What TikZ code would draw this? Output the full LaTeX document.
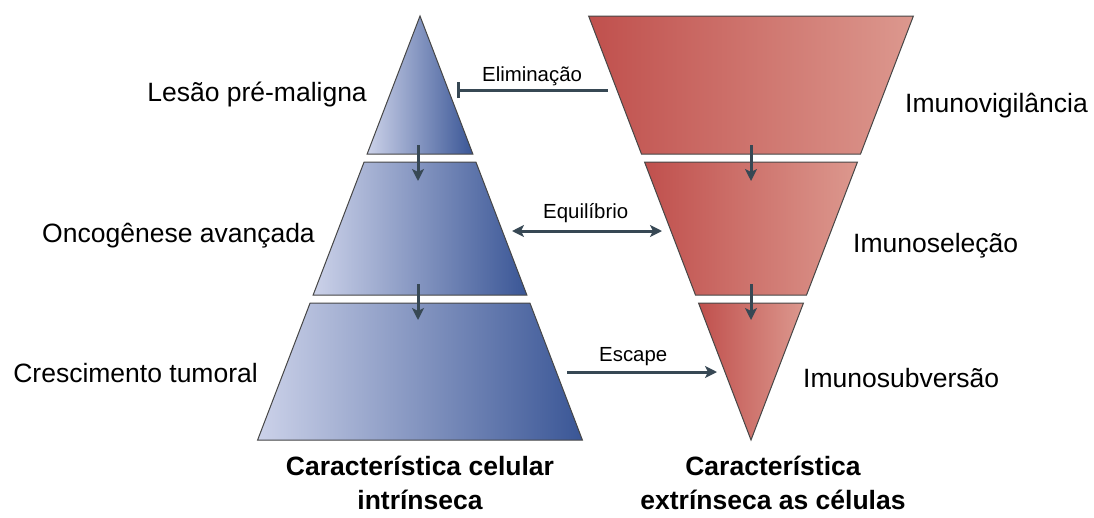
\documentclass[tikz,border=0pt]{standalone}
\usepackage{fontspec}
\setmainfont{Liberation Sans}
\usepackage{tikz}
\usetikzlibrary{
  arrows.meta,
  calc,
  positioning}

\definecolor{blueL}{RGB}{204,210,233}
\definecolor{blueR}{RGB}{58,86,150}
\definecolor{redL}{RGB}{192,80,77}
\definecolor{redR}{RGB}{220,152,142}
\definecolor{edgegray}{RGB}{70,70,70}
\definecolor{arrowgray}{RGB}{55,72,84}

\tikzset{
  bluebnd/.style={left color=blueL, right color=blueR, draw=edgegray, line width=1pt},
  redbnd/.style={left color=redL, right color=redR, draw=edgegray, line width=1pt},
  conn/.style={draw=arrowgray, line width=3pt},
  tip/.style={-{Stealth[length=12pt,width=12pt,inset=3pt]}},
  lbl/.style={font=\fontsize{26.5}{30}\selectfont, inner sep=0pt},
  smalllbl/.style={font=\fontsize{20.4}{24}\selectfont, inner sep=0pt},
  ttl/.style={font=\fontsize{26.5}{34}\selectfont\bfseries, align=center, inner sep=0pt}
}

\begin{document}
\begin{tikzpicture}[x=1pt,y=-1pt]
        \useasboundingbox (0,0) rectangle (1094,517);

        % celula: piramide
        \foreach \ya/\yb in {16/154,162/295,303/440} {
            \shadedraw[bluebnd] ({420-0.383*(\ya-16)},\ya) -- ({420+0.383*(\ya-16)},\ya)
                -- ({420+0.383*(\yb-16)},\yb) -- ({420-0.383*(\yb-16)},\yb) -- cycle;
        }
        % sistema imune: piramide invertida
        \foreach \ya/\yb in {16/154,162/295,303/440} {
            \shadedraw[redbnd] ({751-0.383*(440-\ya)},\ya) -- ({751+0.383*(440-\ya)},\ya)
                -- ({751+0.383*(440-\yb)},\yb) -- ({751-0.383*(440-\yb)},\yb) -- cycle;
        }

        \foreach \x/\n in {418/l,751/r} {
            \coordinate (\n1s) at (\x,145);
            \coordinate (\n1e) at (\x,181);
            \coordinate (\n2s) at (\x,284);
            \coordinate (\n2e) at (\x,320);
            \draw[conn,tip] (\n1s) -- (\n1e);
            \draw[conn,tip] (\n2s) -- (\n2e);
        }

        \coordinate (elimA) at (608,90);
        \coordinate (elimB) at (457,90);
        \coordinate (equiA) at (512,231);
        \coordinate (equiB) at (662,231);
        \coordinate (escA) at (567,372);
        \coordinate (escB) at (717,372);

        \draw[conn,{Bar[width=16pt]}-] (elimB) -- (elimA);
        \draw[conn,{Stealth[length=12pt,width=12pt,inset=3pt]}-{Stealth[length=12pt,width=12pt,inset=3pt]}] (equiA) -- (equiB);
        \draw[conn,tip] (escA) -- (escB);

        \node (elim) [smalllbl, anchor=base west] at (482,81) {Eliminação};
        \node (equi) [smalllbl, anchor=base west] at (543,218) {Equilíbrio};
        \node (esc) [smalllbl, anchor=base west] at (599,361) {Escape};

        \node (lesao) [lbl, anchor=base east] at (367,101) {Lesão pré-maligna};
        \node (onco) [lbl, anchor=base east] at (315,242) {Oncogênese avançada};
        \node (cresc) [lbl, anchor=base east] at (258,382) {Crescimento tumoral};

        \node (vigil) [lbl, anchor=base west] at (905,112) {Imunovigilância};
        \node (selec) [lbl, anchor=base west] at (853,252) {Imunoseleção};
        \node (subv) [lbl, anchor=base west] at (803,387) {Imunosubversão};

        \node (intr) [ttl, anchor=north] at (420,456) {Característica celular\\intrínseca};
        \node (extr) [ttl, anchor=north] at (773,456) {Característica\\extrínseca as células};
    \end{tikzpicture}
\end{document}
